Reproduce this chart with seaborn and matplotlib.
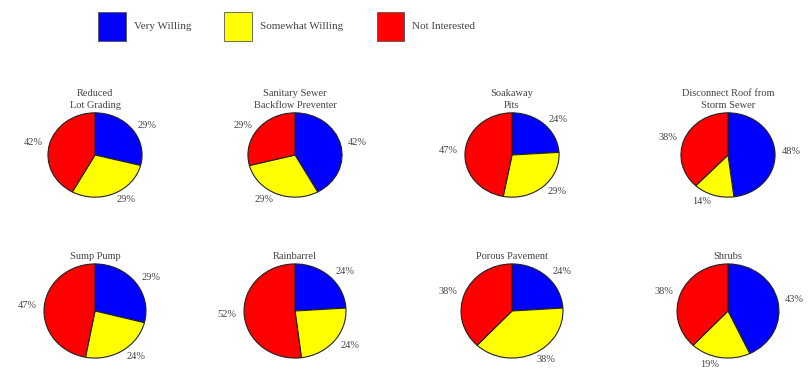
import matplotlib
matplotlib.use("Agg")
import matplotlib.pyplot as plt
from matplotlib.patches import Patch
import seaborn as sns

# Survey: willingness to adopt each lot-level flood protection measure (%)
measures = [
    "Reduced\nLot Grading",
    "Sanitary Sewer\nBackflow Preventer",
    "Soakaway\nPits",
    "Disconnect Roof from\nStorm Sewer",
    "Sump Pump",
    "Rainbarrel",
    "Porous Pavement",
    "Shrubs",
]
very_willing = [29, 42, 24, 48, 29, 24, 24, 43]
somewhat_willing = [29, 29, 29, 14, 24, 24, 38, 19]
not_interested = [42, 29, 47, 38, 47, 52, 38, 38]
responses = ["Very Willing", "Somewhat Willing", "Not Interested"]

sns.set_theme(style="white")
plt.rcParams["font.family"] = ["Liberation Serif", "DejaVu Serif"]
colors = sns.color_palette(["#0000FF", "#FFFF00", "#FF0000"])

W, H = 809, 375
fig = plt.figure(figsize=(W / 100, H / 100), dpi=100)
fig.patch.set_facecolor("white")

# pie centres and half-sizes in pixels (x from left, y from top)
col_x = [95, 295, 512, 728]
row_y = [155, 311]
row_rx = [48, 52]
row_ry = [43, 48]

for i, name in enumerate(measures):
    r, c = divmod(i, 4)
    cx, cy, rx, ry = col_x[c], row_y[r], row_rx[r], row_ry[r]
    ax = fig.add_axes([(cx - rx) / W, 1 - (cy + ry) / H, 2 * rx / W, 2 * ry / H])
    vals = [very_willing[i], somewhat_willing[i], not_interested[i]]
    ax.pie(
        vals,
        colors=colors,
        startangle=90,
        counterclock=False,
        labels=[f"{v}%" for v in vals],
        labeldistance=1.15,
        wedgeprops=dict(edgecolor="#222222", linewidth=0.8),
        textprops=dict(fontsize=7.5, color="#444444"),
    )
    ax.set_xlim(-1.02, 1.02)
    ax.set_ylim(-1.02, 1.02)
    ax.set_aspect("auto")
    ax.set_title(name, fontsize=7.5, color="#444444", pad=3, linespacing=1.45)
    ax.axis("off")

handles = [Patch(facecolor=col, edgecolor="#555555", linewidth=0.6) for col in colors]
fig.legend(
    handles,
    responses,
    loc="upper left",
    bbox_to_anchor=(88 / W, 1 - 2 / H),
    ncol=3,
    frameon=False,
    fontsize=8,
    handlelength=2.5,
    handleheight=3.6,
    handletextpad=0.7,
    columnspacing=3.0,
    labelcolor="#444444",
)

fig.savefig("out.png", dpi=100, facecolor="white")
